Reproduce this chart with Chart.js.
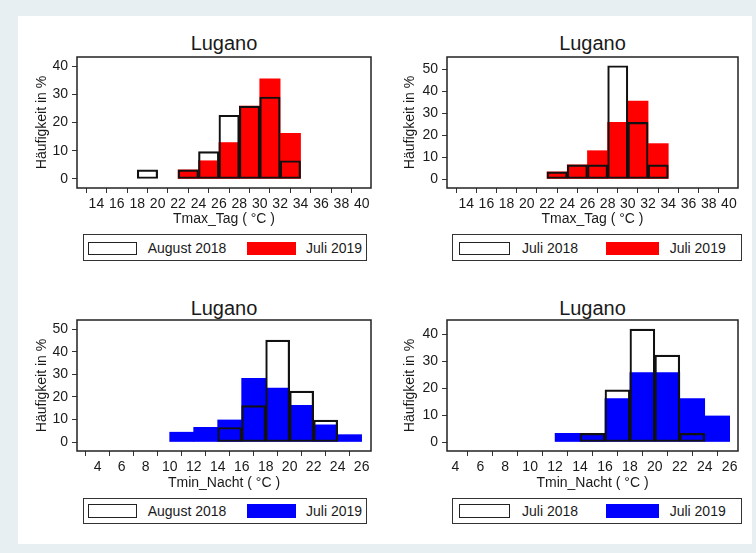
<!DOCTYPE html>
<html>
<head>
<meta charset="utf-8">
<script src="https://cdn.jsdelivr.net/npm/chart.js@4.4.1/dist/chart.umd.min.js"></script>
<style>
  html, body { margin: 0; padding: 0; }
  body {
    width: 756px; height: 553px; position: relative; overflow: hidden;
    background: #e8eff2;
    font-family: "Liberation Sans", Arial, sans-serif; color: #1a1a1a;
  }
  #sheet { position: absolute; left: 18px; top: 16px; width: 734px; height: 528px; background: #fff; }
  canvas { position: absolute; }
  .ttl { position: absolute; font-size: 20px; line-height: 20px; white-space: nowrap; transform: translateX(-50%); }
  .lg { position: absolute; box-sizing: border-box; border: 1px solid #333; background: #fff; }
  .lg .sw { position: absolute; box-sizing: border-box; }
  .lg .tx { position: absolute; font-size: 14px; line-height: 14px; white-space: nowrap; }
</style>
</head>
<body>
<div id="sheet"></div>
<script>
// Frequency (% of days) per 2 °C class; each class is given by its lower edge.
const dayEdges = [18, 20, 22, 24, 26, 28, 30, 32];
const dayAug2018 = [3.23, null, 3.23, 9.68, 22.58, 25.81, 29.03, 6.45];
const dayJul2018 = [null, null, 3.23, 6.45, 6.45, 51.61, 25.81, 6.45];
const dayJul2019 = [null, null, 3.23, 6.45, 12.90, 25.81, 35.48, 16.13];

const nightEdges = [10, 12, 14, 16, 18, 20, 22, 24];
const nightAug2018 = [null, null, 6.45, 16.13, 45.16, 22.58, 9.68, null];
const nightJul2019Left = [4.35, 6.52, 9.78, 28.26, 23.91, 16.30, 7.61, 3.26];
const nightJul2018 = [null, null, 3.23, 19.35, 41.94, 32.26, 3.23, null];
const nightJul2019Right = [null, 3.23, 3.23, 16.13, 25.81, 25.81, 16.13, 9.68];

// Tick labels
const dayTicksX = [14, 16, 18, 20, 22, 24, 26, 28, 30, 32, 34, 36, 38, 40];
const nightTicksX = [4, 6, 8, 10, 12, 14, 16, 18, 20, 22, 24, 26];
const pctTicks40 = [0, 10, 20, 30, 40];
const pctTicks50 = [0, 10, 20, 30, 40, 50];

// Texts
const stationName = 'Lugano';
const yTitle = 'Häufigkeit in %';
const dayTitle = 'Tmax_Tag ( °C )';
const nightTitle = 'Tmin_Nacht ( °C )';
const labelAug2018 = 'August 2018';
const labelJul2018 = 'Juli 2018';
const labelJul2019 = 'Juli 2019';

const RED = '#ff0000';
const BLUE = '#0000ff';
const INK = '#1a1a1a';
const FONT = '"Liberation Sans", Arial, sans-serif';

// Outline of the plot region
const plotBox = {
  id: 'plotBox',
  afterDraw(chart) {
    const a = chart.chartArea, ctx = chart.ctx;
    ctx.save();
    ctx.strokeStyle = '#222';
    ctx.lineWidth = 1.5;
    ctx.strokeRect(a.left, a.top, a.right - a.left, a.bottom - a.top);
    ctx.restore();
  }
};

function points(edges, values) {
  return edges.map((e, i) => ({ x: e + 1, y: values[i] }));
}

const panels = [
  { canvas: [20, 42, 366, 188], x: [12.1, 40.9], y: [-3.19, 43.19], xt: dayTicksX, yt: pctTicks40,
    yPad: 13.6, xPad: 2.1, xTitle: dayTitle, edges: dayEdges,
    ref: dayAug2018, refLabel: labelAug2018, cur: dayJul2019, color: RED,
    title: [224, 33.3],
    legend: { box: [82.7, 234.3, 284, 26.7], sw1: [4.6, 6.4, 48.4, 13.3], t1: 64, sw2: [163.3, 6.4, 49, 13.3], t2: 222.3 } },
  { canvas: [390, 42, 363, 188], x: [12.1, 40.9], y: [-4.10, 55.6], xt: dayTicksX, yt: pctTicks50,
    yPad: 11.3, xPad: 2.1, xTitle: dayTitle, edges: dayEdges,
    ref: dayJul2018, refLabel: labelJul2018, cur: dayJul2019, color: RED,
    title: [592.5, 33.3],
    legend: { box: [452, 234.3, 290.3, 26.7], sw1: [5.7, 6.4, 51.6, 13.3], t1: 69, sw2: [152.7, 6.4, 53.3, 13.3], t2: 216.7 } },
  { canvas: [20, 305, 366, 188], x: [2.275, 26.78], y: [-3.99, 54.1], xt: nightTicksX, yt: pctTicks50,
    yPad: 13.3, xPad: 1.9, xTitle: nightTitle, edges: nightEdges,
    ref: nightAug2018, refLabel: labelAug2018, cur: nightJul2019Left, color: BLUE,
    title: [224, 298],
    legend: { box: [82.7, 497.7, 284, 26.6], sw1: [4.6, 5.6, 48.4, 14], t1: 64, sw2: [163.3, 5.6, 49, 14], t2: 222.3 } },
  { canvas: [390, 305, 363, 188], x: [3.33, 26.67], y: [-3.34, 45.31], xt: nightTicksX, yt: pctTicks40,
    yPad: 11.3, xPad: 1.9, xTitle: nightTitle, edges: nightEdges,
    ref: nightJul2018, refLabel: labelJul2018, cur: nightJul2019Right, color: BLUE,
    title: [592.5, 298],
    legend: { box: [452, 497.7, 290.3, 26.6], sw1: [5.7, 5.6, 51.6, 14], t1: 69, sw2: [152.7, 5.6, 53.3, 14], t2: 216.7 } }
];

function addDiv(parent, cls, css, text) {
  const d = document.createElement('div');
  d.className = cls;
  Object.assign(d.style, css);
  if (text !== undefined) d.textContent = text;
  parent.appendChild(d);
  return d;
}

panels.forEach(p => {
  // title
  addDiv(document.body, 'ttl', { left: p.title[0] + 'px', top: p.title[1] + 'px' }, stationName);

  // legend
  const L = p.legend;
  const lg = addDiv(document.body, 'lg', {
    left: L.box[0] + 'px', top: L.box[1] + 'px', width: L.box[2] + 'px', height: L.box[3] + 'px'
  });
  const txTop = ((L.box[3] - 2 - 14) / 2) + 'px';
  addDiv(lg, 'sw', { left: L.sw1[0] + 'px', top: L.sw1[1] + 'px', width: L.sw1[2] + 'px', height: L.sw1[3] + 'px',
                     border: '1.5px solid #222', background: '#fff' });
  addDiv(lg, 'tx', { left: L.t1 + 'px', top: txTop }, p.refLabel);
  addDiv(lg, 'sw', { left: L.sw2[0] + 'px', top: L.sw2[1] + 'px', width: L.sw2[2] + 'px', height: L.sw2[3] + 'px',
                     background: p.color });
  addDiv(lg, 'tx', { left: L.t2 + 'px', top: txTop }, labelJul2019);

  // chart
  const cv = document.createElement('canvas');
  const [cx, cy, cw, ch] = p.canvas;
  cv.width = cw; cv.height = ch;
  Object.assign(cv.style, { left: cx + 'px', top: cy + 'px', width: cw + 'px', height: ch + 'px' });
  document.body.appendChild(cv);

  const tickFont = { family: FONT, size: 14 };
  const barCommon = { grouped: false, barPercentage: 1, categoryPercentage: 1 };

  new Chart(cv.getContext('2d'), {
    type: 'bar',
    data: {
      datasets: [
        Object.assign({
          label: p.refLabel,
          data: points(p.edges, p.ref),
          backgroundColor: 'rgba(0,0,0,0)',
          borderColor: '#111',
          borderWidth: 1.5,
          borderSkipped: false
        }, barCommon),
        Object.assign({
          label: labelJul2019,
          data: points(p.edges, p.cur),
          backgroundColor: p.color,
          borderWidth: 0
        }, barCommon)
      ]
    },
    options: {
      responsive: false,
      animation: false,
      devicePixelRatio: 1,
      layout: { padding: { top: 15, right: 15, left: 0, bottom: 0 } },
      plugins: { legend: { display: false }, tooltip: { enabled: false }, title: { display: false } },
      scales: {
        x: {
          type: 'linear', min: p.x[0], max: p.x[1], offset: false,
          afterBuildTicks: s => { s.ticks = p.xt.map(v => ({ value: v })); },
          afterFit: s => { s.height = 42; },
          grid: { drawOnChartArea: false, drawTicks: true, tickLength: 5, color: '#333', lineWidth: 1 },
          border: { display: false },
          ticks: { font: tickFont, color: INK, padding: 3, maxRotation: 0, autoSkip: false, callback: v => String(v) },
          title: { display: true, text: p.xTitle, font: tickFont, color: INK, padding: { top: 0, bottom: p.xPad } }
        },
        y: {
          type: 'linear', min: p.y[0], max: p.y[1],
          afterBuildTicks: s => { s.ticks = p.yt.map(v => ({ value: v })); },
          afterFit: s => { s.width = 57; },
          grid: { drawOnChartArea: false, drawTicks: true, tickLength: 5, color: '#333', lineWidth: 1 },
          border: { display: false },
          ticks: { font: tickFont, color: INK, padding: 4, autoSkip: false, callback: v => String(v) },
          title: { display: true, text: yTitle, font: tickFont, color: INK, padding: { top: p.yPad, bottom: 0 } }
        }
      }
    },
    plugins: [plotBox]
  });
});
</script>
</body>
</html>
